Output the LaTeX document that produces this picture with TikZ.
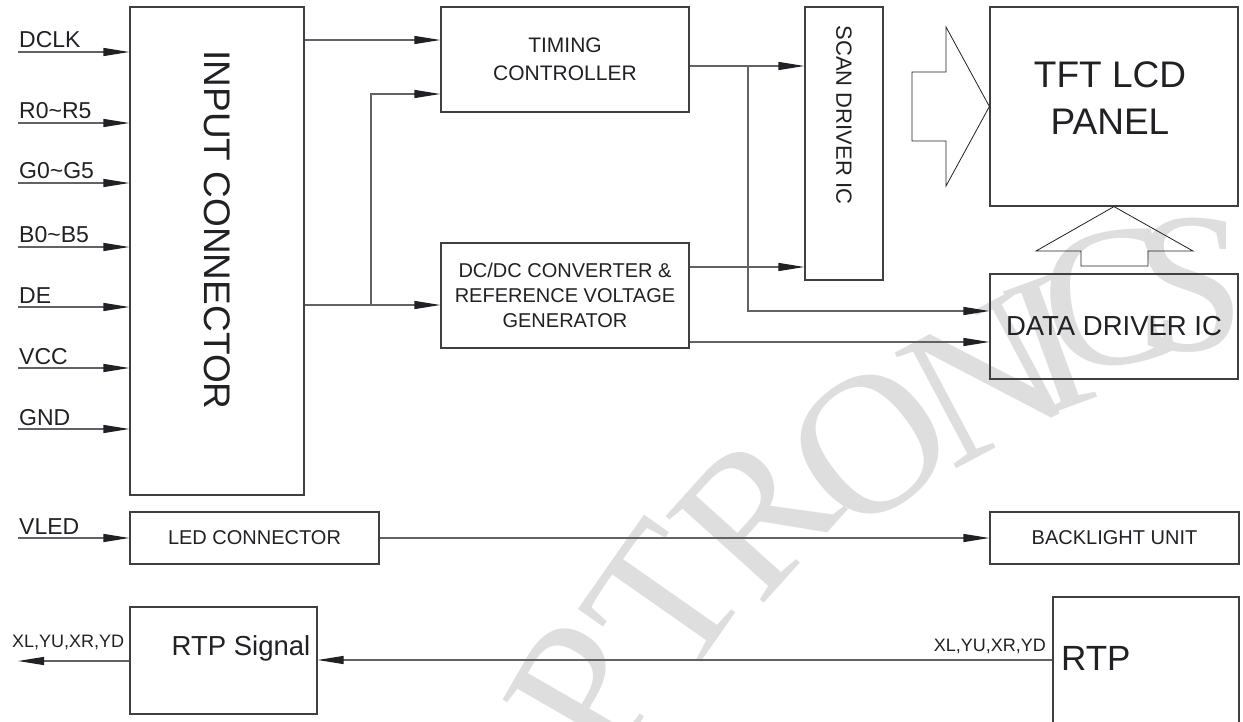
\documentclass[tikz,border=0pt]{standalone}
\usepackage{fontspec}
\setmainfont{Liberation Sans}
\setsansfont{Liberation Sans}
\newfontfamily\wmfont{Liberation Serif}
\usepackage{xcolor}
\usepackage{tikz}
\usetikzlibrary{arrows.meta,positioning,calc,backgrounds}

\definecolor{linegray}{HTML}{5F6266}
\definecolor{boxgray}{HTML}{3C4043}
\definecolor{textgray}{HTML}{202124}
\definecolor{wmgray}{HTML}{DEDEDE}
\newcommand{\fsz}[2]{\fontsize{#1}{#2}\selectfont}

\begin{document}
\begin{tikzpicture}[
        x=1pt, y=-1pt,
        >={Triangle[length=26pt,width=8pt,color=textgray]},
        % 模块样式
        blk/.style={draw=boxgray, line width=1.2pt, inner sep=0pt, text=textgray, align=center},
        blktext/.style={inner sep=0pt, text=textgray, align=center},
        % 连线样式
        sig/.style={->, draw=linegray, line width=1.2pt},
        hollow/.style={draw=textgray, line width=0.8pt, line join=miter},
        % 引脚标签
        pinlabel/.style={anchor=base west, inner sep=0pt, text=textgray, font=\fsz{23}{23}},
        buslabel/.style={inner sep=0pt, text=textgray, font=\fsz{18}{18}},
        wmark/.style={inner sep=0pt, text=wmgray, font=\wmfont\fsz{200}{200}}
    ]
    \useasboundingbox (0,0) rectangle (1243,722);

    % 水印
    \begin{pgfonlayer}{background}
        \foreach \ch/\x/\y/\ang in {P/585/690/60, T/665/600/55, R/755/515/48, O/870/445/38,
                                   N/985/380/28, I/1050/345/20, C/1110/300/10, S/1190/285/0}
            \node[wmark, rotate=\ang] (wm-\ch) at (\x,\y) {\ch};
    \end{pgfonlayer}

    % 各功能模块
    \node[blk, minimum width=174pt, minimum height=488pt] (inconn) at (217,251) {};
    \node[blktext, rotate=-90, font=\fsz{37}{37}] (inconntxt) at (217,230) {INPUT CONNECTOR};

    \node[blk, minimum width=248pt, minimum height=105pt, font=\fsz{21}{28}] (tc) at (565,59.5) {TIMING\\CONTROLLER};
    \node[blk, minimum width=248pt, minimum height=105pt, font=\fsz{20}{25}] (dcdc) at (565,295.5)
        {DC/DC CONVERTER \&\\REFERENCE VOLTAGE\\GENERATOR};

    \node[blk, minimum width=78pt, minimum height=273pt] (scan) at (844,143.5) {};
    \node[blktext, rotate=-90, font=\fsz{22}{22}] (scantxt) at (844,115) {SCAN DRIVER IC};

    \node[blk, minimum width=248pt, minimum height=199pt] (tft) at (1114,106.5) {};
    \node[blktext, font=\fsz{37}{47}] (tfttxt) at (1110,98) {TFT LCD\\PANEL};

    \node[blk, minimum width=248pt, minimum height=105pt, font=\fsz{27.5}{27.5}] (data) at (1114,326.5) {DATA DRIVER IC};

    \node[blk, minimum width=249pt, minimum height=52pt, font=\fsz{20}{20}] (led) at (254.5,538) {LED CONNECTOR};
    \node[blk, minimum width=249pt, minimum height=52pt, font=\fsz{20}{20}] (bl) at (1114.5,538) {BACKLIGHT UNIT};

    \node[blk, minimum width=187pt, minimum height=107pt] (rtps) at (223.5,660.5) {};
    \node[blktext, font=\fsz{27.5}{27.5}] (rtpstxt) at (241,648) {RTP Signal};

    \node[blk, minimum width=186pt, minimum height=163pt] (rtp) at (1146,678.5) {};
    \node[blktext, anchor=west, font=\fsz{35}{35}] (rtptxt) at (1061,658) {RTP};

    % 输入信号
    \foreach \name/\y in {DCLK/52, R0\textasciitilde R5/123, G0\textasciitilde G5/183,
                          B0\textasciitilde B5/247, DE/307, VCC/368, GND/429} {
        \coordinate (in-\y) at (18,\y);
        \draw[sig] (in-\y) -- (inconn.west |- in-\y);
        \node[pinlabel] (lbl-\y) at (19,\y-4) {\name};
    }
    \coordinate (vled) at (18,538);
    \draw[sig] (vled) -- (led);
    \node[pinlabel] (lbl-vled) at (19,534) {VLED};

    % 内部连线
    \coordinate (jdc) at (371,305);
    \coordinate (jtc) at (748,66);
    \draw[sig] (inconn.east |- 0,40) -- (tc.west |- 0,40);
    \draw[sig] (inconn.east |- jdc) -- (dcdc.west |- jdc);
    \draw[sig] (jdc) |- (tc.west |- 0,94);
    \draw[sig] (tc.east |- jtc) -- (scan.west |- jtc);
    \draw[sig] (jtc) |- (data.west |- 0,311);
    \draw[sig] (dcdc.east |- 0,267) -- (scan.west |- 0,267);
    \draw[sig] (dcdc.east |- 0,342) -- (data.west |- 0,342);
    \draw[sig] (led) -- (bl);

    % 触摸屏信号
    \coordinate (xyout) at (18,661);
    \draw[sig] (rtp.west |- 0,660) -- (rtps.east |- 0,660);
    \draw[sig] (rtps.west |- xyout) -- (xyout);
    \node[buslabel, anchor=base east] (busr) at (1046,651) {XL,YU,XR,YD};
    \node[buslabel, anchor=base west] (busl) at (12,647) {XL,YU,XR,YD};

    % 空心大箭头
    \draw[hollow] (912,72) -- (946,72) -- (946,27) -- (tft.west) -- (946,186) -- (946,141) -- (912,141) -- cycle;
    \draw[hollow] (tft.south) -- (1193,251) -- (1148,251) -- (1148,266) -- (1081,266) -- (1081,251) -- (1036,251) -- cycle;

\end{tikzpicture}
\end{document}
